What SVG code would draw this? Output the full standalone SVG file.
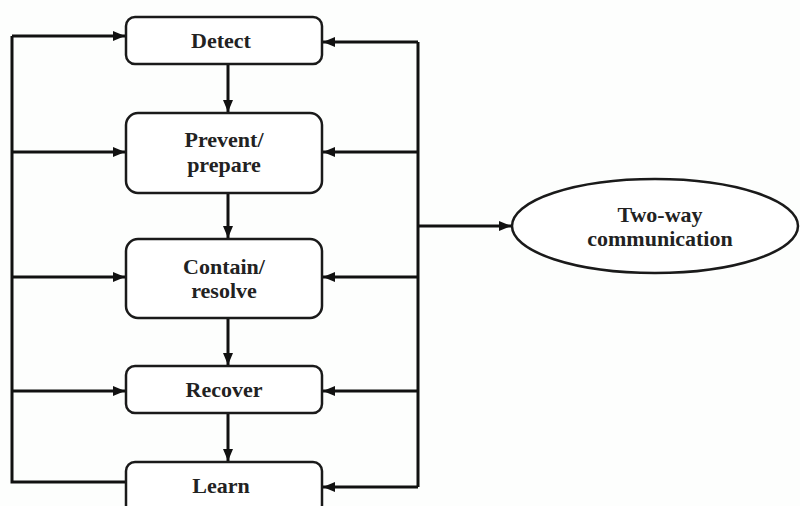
<svg xmlns="http://www.w3.org/2000/svg" width="800" height="506" viewBox="0 0 800 506">
<style>
.box{fill:#fff;stroke:#1a1a1a;stroke-width:2.5}
.ln{fill:none;stroke:#111;stroke-width:3}
.t{font-family:"Liberation Serif","Times New Roman",serif;font-weight:bold;font-size:22px;fill:#222;text-anchor:middle}
</style>
<defs>
<marker id="ah" markerWidth="12" markerHeight="10" refX="12" refY="5" orient="auto" markerUnits="userSpaceOnUse">
<path d="M0,0 L12,5 L0,10 Z" fill="#111"/>
</marker>
</defs>
<rect width="800" height="506" fill="#fdfefd"/>
<g id="connectors">
<path class="ln" d="M126,482 H12 V36"/>
<path class="ln" d="M12,36 H125" marker-end="url(#ah)"/>
<path class="ln" d="M12,152 H125" marker-end="url(#ah)"/>
<path class="ln" d="M12,277 H125" marker-end="url(#ah)"/>
<path class="ln" d="M12,391 H125" marker-end="url(#ah)"/>
<path class="ln" d="M418,42 V487"/>
<path class="ln" d="M418,42 H323" marker-end="url(#ah)"/>
<path class="ln" d="M418,152 H323" marker-end="url(#ah)"/>
<path class="ln" d="M418,277 H323" marker-end="url(#ah)"/>
<path class="ln" d="M418,391 H323" marker-end="url(#ah)"/>
<path class="ln" d="M418,487 H323" marker-end="url(#ah)"/>
<path class="ln" d="M418,226 H511" marker-end="url(#ah)"/>
<path class="ln" d="M228,64 V112" marker-end="url(#ah)"/>
<path class="ln" d="M228,193 V238" marker-end="url(#ah)"/>
<path class="ln" d="M228,318 V365" marker-end="url(#ah)"/>
<path class="ln" d="M228,413 V461" marker-end="url(#ah)"/>
</g>
<g id="detect"><rect class="box" x="126" y="17" width="196" height="47" rx="9"/><text class="t" x="221" y="48">Detect</text></g>
<g id="prevent"><rect class="box" x="126" y="113" width="196" height="80" rx="12"/><text class="t" x="224" y="147">Prevent/</text><text class="t" x="224" y="172">prepare</text></g>
<g id="contain"><rect class="box" x="126" y="239" width="196" height="79" rx="12"/><text class="t" x="224" y="274">Contain/</text><text class="t" x="224" y="298">resolve</text></g>
<g id="recover"><rect class="box" x="126" y="366" width="196" height="47" rx="9"/><text class="t" x="224" y="397">Recover</text></g>
<g id="learn"><rect class="box" x="126" y="462" width="196" height="52" rx="9"/><text class="t" x="221" y="493">Learn</text></g>
<g id="twoway"><ellipse class="box" cx="655" cy="226" rx="143" ry="47"/><text class="t" x="660" y="222">Two-way</text><text class="t" x="660" y="246">communication</text></g>
</svg>
